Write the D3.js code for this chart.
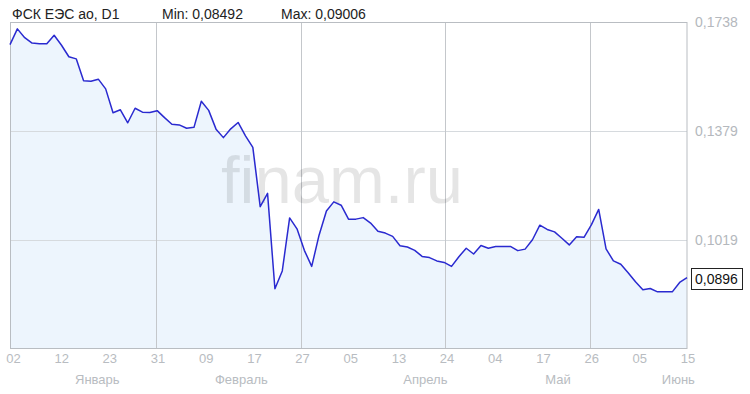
<!DOCTYPE html>
<html>
<head>
<meta charset="utf-8">
<script src="https://cdn.jsdelivr.net/npm/d3@7"></script>
<style>
  html, body { margin: 0; padding: 0; background: #fff; }
  svg { display: block; }
  text { font-family: Arial, "Liberation Sans", sans-serif; }
</style>
</head>
<body>
<svg id="chart" width="750" height="394"></svg>
<script>
// ---------- data ----------
const title = "ФСК ЕЭС ао, D1";
const minText = "Min: 0,08492";
const maxText = "Max: 0,09006";
const prices = [
  0.1665, 0.1717, 0.1688, 0.1670, 0.1668, 0.1668, 0.1696, 0.1663, 0.1625, 0.1618,
  0.1546, 0.1544, 0.1551, 0.1519, 0.1440, 0.1450, 0.1407, 0.1455, 0.1442, 0.1441,
  0.1447, 0.1424, 0.1402, 0.1400, 0.1389, 0.1392, 0.1478, 0.1448, 0.1386, 0.1358,
  0.1387, 0.1408, 0.1364, 0.1326, 0.1130, 0.1174, 0.0859, 0.0918, 0.1093, 0.1057,
  0.0986, 0.0933, 0.1036, 0.1116, 0.1146, 0.1135, 0.1089, 0.1089, 0.1094, 0.1076,
  0.1049, 0.1043, 0.1032, 0.1001, 0.0997, 0.0986, 0.0966, 0.0962, 0.0951, 0.0946,
  0.0933, 0.0965, 0.0993, 0.0974, 0.1002, 0.0993, 0.0999, 0.0999, 0.0999, 0.0985,
  0.0990, 0.1021, 0.1069, 0.1055, 0.1047, 0.1026, 0.1004, 0.1031, 0.1029, 0.1070,
  0.1121, 0.0991, 0.0951, 0.0940, 0.0912, 0.0882, 0.0856, 0.0860, 0.0849, 0.0849,
  0.0849, 0.0880, 0.0896
];
const lastLabel = "0,0896";
const yTicks = [0.1738, 0.1379, 0.1019];
const yTickLabels = ["0,1738", "0,1379", "0,1019"];
const xTickLabels = ["02","12","23","31","09","17","27","05","13","24","04","17","26","05","15"];
const gridTickIdx = [3, 6, 9, 12];
const months = ["Январь", "Февраль", "Апрель", "Май", "Июнь"];
const monthAt = [1.74, 4.73, 8.55, 11.30, 13.80]; // in x-tick units
const watermark = "finam.ru";

// ---------- layout ----------
const L = 10, R = 687, T = 22.5, B = 348.5;
const svg = d3.select("#chart");

const x = d3.scaleLinear().domain([0, prices.length - 1]).range([L, R]);
const y = d3.scaleLinear().domain([0.0662, 0.1738]).range([B, T]);
const xt = d3.scaleLinear().domain([0, xTickLabels.length - 1]).range([13.5, 688]);

// fill area
const area = d3.area().x((d, i) => x(i)).y0(B).y1(d => y(d));
svg.append("path").datum(prices).attr("d", area).attr("fill", "#edf5fd");

// horizontal grid
svg.append("g").selectAll("line").data(yTicks.slice(1)).join("line")
  .attr("x1", L).attr("x2", R)
  .attr("y1", d => Math.round(y(d)) + 0.5).attr("y2", d => Math.round(y(d)) + 0.5)
  .attr("stroke", "#d6dade").attr("stroke-width", 1);

// vertical grid
svg.append("g").selectAll("line").data(gridTickIdx).join("line")
  .attr("x1", d => Math.round(xt(d) - 2) + 0.5).attr("x2", d => Math.round(xt(d) - 2) + 0.5)
  .attr("y1", T).attr("y2", B)
  .attr("stroke", "#c4c7cb").attr("stroke-width", 1);

// watermark
svg.append("text").attr("x", 221).attr("y", 203)
  .attr("font-size", 67).attr("fill", "#000").attr("fill-opacity", 0.1)
  .text(watermark);

// frame
svg.append("rect").attr("x", L + 0.5).attr("y", T).attr("width", R - L - 0.5).attr("height", B - T)
  .attr("fill", "none").attr("stroke", "#b9bdc2").attr("stroke-width", 1);

// line
const line = d3.line().x((d, i) => x(i)).y(d => y(d));
svg.append("path").datum(prices).attr("d", line)
  .attr("fill", "none").attr("stroke", "#2a2ad0").attr("stroke-width", 1.5)
  .attr("stroke-linejoin", "round");

// y tick labels
svg.append("g").selectAll("text").data(yTicks).join("text")
  .attr("x", 695).attr("y", d => y(d)).attr("dy", "0.35em")
  .attr("font-size", 14).attr("fill", "#b4b8bd")
  .text((d, i) => yTickLabels[i]);

// x tick labels
svg.append("g").selectAll("text").data(xTickLabels).join("text")
  .attr("x", (d, i) => xt(i)).attr("y", 363)
  .attr("text-anchor", "middle").attr("font-size", 13).attr("fill", "#b8bcc1")
  .text(d => d);

// month labels
svg.append("g").selectAll("text").data(months).join("text")
  .attr("x", (d, i) => xt(monthAt[i])).attr("y", 384)
  .attr("text-anchor", "middle").attr("font-size", 13).attr("fill", "#b8bcc1")
  .text(d => d);

// header
const hdr = svg.append("g").attr("font-size", 14).attr("fill", "#222");
hdr.append("text").attr("x", 12).attr("y", 18.5).text(title);
hdr.append("text").attr("x", 162).attr("y", 18.5).text(minText);
hdr.append("text").attr("x", 281).attr("y", 18.5).text(maxText);

// last value box
const ly = y(prices[prices.length - 1]);
svg.append("rect").attr("x", 691.5).attr("y", Math.round(ly - 10) + 0.5)
  .attr("width", 51).attr("height", 21)
  .attr("fill", "#fff").attr("stroke", "#222").attr("stroke-width", 1);
svg.append("text").attr("x", 695).attr("y", ly + 1).attr("dy", "0.35em")
  .attr("font-size", 14).attr("fill", "#111").text(lastLabel);
</script>
</body>
</html>
